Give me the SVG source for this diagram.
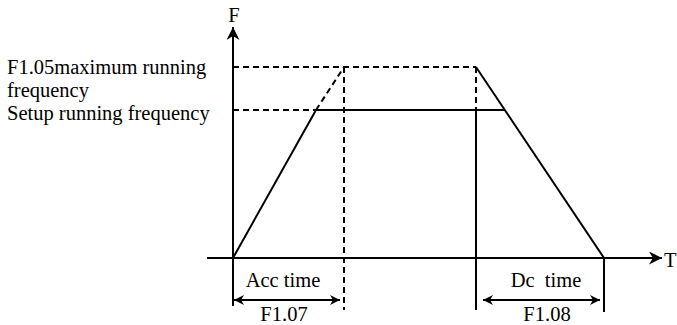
<svg xmlns="http://www.w3.org/2000/svg" width="677" height="325" viewBox="0 0 677 325">
<style>
text{font-family:"Liberation Serif","Times New Roman",serif;font-size:20.5px;fill:#000}
.s{stroke:#000;stroke-width:2;fill:none}
.d{stroke:#000;stroke-width:2;fill:none;stroke-dasharray:6,4}
</style>
<defs>
<marker id="ah" viewBox="0 0 10 10" refX="10" refY="5" markerWidth="10" markerHeight="10" markerUnits="userSpaceOnUse" orient="auto-start-reverse"><path d="M0,0 L10,5 L0,10 L3,5 Z" fill="#000"/></marker>
<marker id="big" viewBox="0 0 10 10" refX="10" refY="5" markerWidth="18" markerHeight="13" markerUnits="userSpaceOnUse" orient="auto"><path d="M0,0 L10,5 L0,10 L3,5 Z" fill="#000"/></marker>
</defs>
<g id="axes">
<line class="s" x1="233" y1="306" x2="233" y2="27" marker-end="url(#big)"/>
<line class="s" x1="207" y1="258" x2="662" y2="258" marker-end="url(#big)"/>
<text x="234" y="22" text-anchor="middle">F</text>
<text x="664" y="267">T</text>
</g>
<g id="curve">
<line class="d" x1="233" y1="67" x2="476" y2="67"/>
<line class="d" x1="316" y1="110" x2="344" y2="67"/>
<line class="d" x1="344" y1="67" x2="344" y2="310"/>
<line class="d" x1="233" y1="110" x2="316" y2="110"/>
<line class="s" x1="316" y1="110" x2="505" y2="110"/>
<line class="s" x1="233" y1="258" x2="316" y2="110"/>
<line class="s" x1="476" y1="67" x2="604" y2="258"/>
<line class="d" x1="476" y1="67" x2="476" y2="110"/>
<line class="s" x1="476" y1="110" x2="476" y2="310"/>
<line class="s" x1="604" y1="258" x2="604" y2="312"/>
</g>
<g id="labels">
<text x="7" y="74">F1.05maximum running</text>
<text x="7" y="97">frequency</text>
<text x="7" y="120">Setup running frequency</text>
</g>
<g id="acc">
<line class="s" x1="234" y1="300" x2="340" y2="300" marker-start="url(#ah)" marker-end="url(#ah)"/>
<text x="283" y="287" text-anchor="middle">Acc time</text>
<text x="284" y="321" text-anchor="middle">F1.07</text>
</g>
<g id="dc">
<line class="s" x1="483" y1="300" x2="600" y2="300" marker-start="url(#ah)" marker-end="url(#ah)"/>
<text x="546" y="287" text-anchor="middle" xml:space="preserve">Dc  time</text>
<text x="547" y="321" text-anchor="middle">F1.08</text>
</g>
</svg>
